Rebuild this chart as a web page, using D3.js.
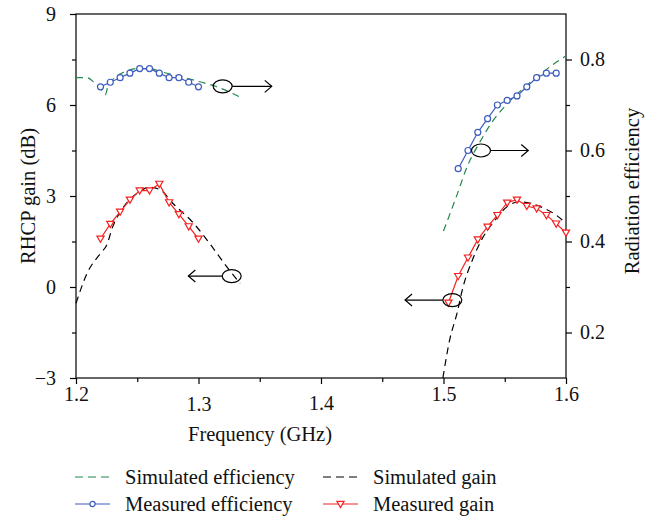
<!DOCTYPE html>
<html>
<head>
<meta charset="utf-8">
<script src="https://cdn.jsdelivr.net/npm/d3@7"></script>
<style>
  body { margin: 0; background: #fff; }
  svg text { font-family: "Liberation Serif", "DejaVu Serif", serif !important; fill: #111; }
  .axis text { font-size: 20px; }
  .axis line { stroke: #000; stroke-width: 1.2; }
</style>
</head>
<body>
<div id="chart"></div>
<script>
// RHCP gain / radiation efficiency vs frequency, two bands

// ---- data ----
// simulated efficiency (right axis)
let simEffLowF  = [1.200, 1.209, 1.215, 1.221, 1.224, 1.226, 1.230, 1.239, 1.250, 1.260, 1.271, 1.285, 1.301, 1.315, 1.335];
let simEffLow   = [0.760, 0.760, 0.749, 0.733, 0.723, 0.741, 0.756, 0.772, 0.780, 0.780, 0.772, 0.763, 0.751, 0.740, 0.716];
let simEffHighF = [1.500, 1.510, 1.520, 1.530, 1.540, 1.550, 1.560, 1.570, 1.580, 1.590, 1.600];
let simEffHigh  = [0.423, 0.495, 0.569, 0.620, 0.664, 0.697, 0.724, 0.748, 0.770, 0.790, 0.808];

// measured efficiency (right axis)
let measEffLowF  = [1.220, 1.228, 1.236, 1.244, 1.252, 1.260, 1.268, 1.276, 1.284, 1.292, 1.300];
let measEffLow   = [0.74, 0.75, 0.76, 0.77, 0.78, 0.78, 0.77, 0.76, 0.76, 0.75, 0.74];
let measEffHighF = [1.512, 1.520, 1.528, 1.536, 1.544, 1.552, 1.560, 1.568, 1.576, 1.584, 1.592];
let measEffHigh  = [0.56, 0.60, 0.64, 0.67, 0.70, 0.71, 0.72, 0.74, 0.76, 0.77, 0.77];

// simulated gain (left axis, dB)
let simGainLowF  = [1.200, 1.209, 1.220, 1.225, 1.230, 1.239, 1.250, 1.260, 1.269, 1.279, 1.296, 1.309, 1.323, 1.334];
let simGainLow   = [-0.54, 0.45, 1.11, 1.38, 1.99, 2.65, 3.09, 3.29, 3.20, 2.76, 2.10, 1.44, 0.67, 0.12];
let simGainHighF = [1.4995, 1.505, 1.511, 1.516, 1.523, 1.531, 1.541, 1.552, 1.562, 1.579, 1.592, 1.600];
let simGainHigh  = [-3.00, -1.75, -0.87, 0.01, 0.83, 1.55, 2.15, 2.65, 2.81, 2.65, 2.37, 2.10];

// measured gain (left axis, dB)
let measGainLowF  = [1.220, 1.228, 1.236, 1.244, 1.252, 1.260, 1.268, 1.276, 1.284, 1.292, 1.300];
let measGainLow   = [1.59, 2.08, 2.48, 2.88, 3.18, 3.18, 3.40, 2.79, 2.40, 2.00, 1.59];
let measGainHighF = [1.504, 1.512, 1.520, 1.528, 1.536, 1.544, 1.552, 1.560, 1.568, 1.576, 1.584, 1.592, 1.600];
let measGainHigh  = [-0.52, 0.36, 0.97, 1.57, 1.99, 2.37, 2.78, 2.88, 2.67, 2.59, 2.37, 2.09, 1.79];

// axis ticks
let xTicks = [1.2, 1.3, 1.4, 1.5, 1.6];
let xMinor = [1.25, 1.35, 1.45, 1.55];
let gainTicks = [-3, 0, 3, 6, 9];
let gainMinor = [-1.5, 1.5, 4.5, 7.5];
let effTicks = [0.2, 0.4, 0.6, 0.8];
let effMinor = [0.3, 0.5, 0.7];

// ellipse + arrow notes: which axis, ellipse centre, arrow tip frequency
let notes = [
  { axis: 'eff',  f: 1.3197, v: 0.741, tip: 1.3598 },
  { axis: 'gain', f: 1.3271, v: 0.36,  tip: 1.2917 },
  { axis: 'eff',  f: 1.5306, v: 0.600, tip: 1.5692 },
  { axis: 'gain', f: 1.5072, v: -0.43, tip: 1.4686 }
];

// ---- layout ----
let svgWidth = 658;
let svgHeight = 517;
let margin = { top: 14, right: 92, bottom: 139, left: 76 };
let width = svgWidth - margin.left - margin.right;
let height = svgHeight - margin.top - margin.bottom;

let serif = '"Liberation Serif", "DejaVu Serif", serif';
let green = '#23884a';
let blue = '#3d5cbf';
let red = '#f52020';

let svg = d3.select('#chart').append('svg')
  .attr('width', svgWidth)
  .attr('height', svgHeight)
  .attr('font-family', serif);

let g = svg.append('g')
  .attr('transform', `translate(${margin.left}, ${margin.top})`);

let x = d3.scaleLinear().domain([1.2, 1.6]).range([0, width]);
let yGain = d3.scaleLinear().domain([-3, 9]).range([height, 0]);
let yEff = d3.scaleLinear().domain([0.1, 0.9]).range([height, 0]);

function pairs(fs, vs) {
  return fs.map((f, i) => ({ f: f, v: vs[i] }));
}

// frame
g.append('rect')
  .attr('width', width)
  .attr('height', height)
  .attr('fill', 'none')
  .attr('stroke', '#000')
  .attr('stroke-width', 1.2);

// x axis
let xAxis = g.append('g')
  .attr('class', 'axis')
  .attr('transform', `translate(0, ${height})`)
  .call(d3.axisBottom(x).tickValues(xTicks).tickSize(6).tickPadding(3).tickFormat(d3.format('.1f')));
xAxis.select('.domain').remove();
// labels 1.3 and 1.4 sit a bit lower in the original
let xLabelShift = { '1.3': 10, '1.4': 9 };
xAxis.selectAll('text')
  .attr('transform', d => `translate(0, ${xLabelShift[d.toFixed(1)] || 0})`);
g.append('g')
  .attr('class', 'axis')
  .attr('transform', `translate(0, ${height})`)
  .call(d3.axisBottom(x).tickValues(xMinor).tickSize(4).tickFormat(''))
  .select('.domain').remove();

// left axis
let leftAxis = g.append('g')
  .attr('class', 'axis')
  .call(d3.axisLeft(yGain).tickValues(gainTicks).tickSize(6).tickPadding(14)
    .tickFormat(d => d < 0 ? '\u2212' + Math.abs(d) : d));
leftAxis.select('.domain').remove();
g.append('g')
  .attr('class', 'axis')
  .call(d3.axisLeft(yGain).tickValues(gainMinor).tickSize(4).tickFormat(''))
  .select('.domain').remove();

// right axis
let rightAxis = g.append('g')
  .attr('class', 'axis')
  .attr('transform', `translate(${width}, 0)`)
  .call(d3.axisRight(yEff).tickValues(effTicks).tickSize(6).tickPadding(8).tickFormat(d3.format('.1f')));
rightAxis.select('.domain').remove();
g.append('g')
  .attr('class', 'axis')
  .attr('transform', `translate(${width}, 0)`)
  .call(d3.axisRight(yEff).tickValues(effMinor).tickSize(4).tickFormat(''))
  .select('.domain').remove();

svg.selectAll('.axis').attr('font-family', serif);

// axis titles
svg.append('text')
  .attr('x', 260)
  .attr('y', 441)
  .attr('text-anchor', 'middle')
  .style('font-size', '20.5px')
  .text('Frequency (GHz)');

svg.append('text')
  .attr('transform', 'translate(28, 196) rotate(-90)')
  .attr('text-anchor', 'middle')
  .attr('dy', '0.35em')
  .style('font-size', '20.5px')
  .text('RHCP gain (dB)');

svg.append('text')
  .attr('transform', 'translate(632, 191) rotate(-90)')
  .attr('text-anchor', 'middle')
  .attr('dy', '0.35em')
  .style('font-size', '20.5px')
  .text('Radiation efficiency');

// lines
let effLine = d3.line().x(d => x(d.f)).y(d => yEff(d.v)).curve(d3.curveMonotoneX);
let gainLine = d3.line().x(d => x(d.f)).y(d => yGain(d.v)).curve(d3.curveMonotoneX);
let effPoly = d3.line().x(d => x(d.f)).y(d => yEff(d.v));
let gainPoly = d3.line().x(d => x(d.f)).y(d => yGain(d.v));

[pairs(simEffLowF, simEffLow), pairs(simEffHighF, simEffHigh)].forEach(data => {
  g.append('path')
    .attr('d', effLine(data))
    .attr('fill', 'none')
    .attr('stroke', green)
    .attr('stroke-width', 1.2)
    .attr('stroke-dasharray', '7,5');
});

[pairs(simGainLowF, simGainLow), pairs(simGainHighF, simGainHigh)].forEach(data => {
  g.append('path')
    .attr('d', gainLine(data))
    .attr('fill', 'none')
    .attr('stroke', '#000')
    .attr('stroke-width', 1.2)
    .attr('stroke-dasharray', '7,5');
});

let triangle = 'M-3.6,-2.6 L3.6,-2.6 L0,3.6 Z';

[pairs(measGainLowF, measGainLow), pairs(measGainHighF, measGainHigh)].forEach(data => {
  g.append('path')
    .attr('d', gainPoly(data))
    .attr('fill', 'none')
    .attr('stroke', red)
    .attr('stroke-width', 1.2);
  g.selectAll(null)
    .data(data)
    .enter()
    .append('path')
    .attr('d', triangle)
    .attr('transform', d => `translate(${x(d.f)}, ${yGain(d.v)})`)
    .attr('fill', '#fff')
    .attr('stroke', red)
    .attr('stroke-width', 1.2);
});

[pairs(measEffLowF, measEffLow), pairs(measEffHighF, measEffHigh)].forEach(data => {
  g.append('path')
    .attr('d', effPoly(data))
    .attr('fill', 'none')
    .attr('stroke', blue)
    .attr('stroke-width', 1.2);
  g.selectAll(null)
    .data(data)
    .enter()
    .append('circle')
    .attr('cx', d => x(d.f))
    .attr('cy', d => yEff(d.v))
    .attr('r', 3)
    .attr('fill', '#fff')
    .attr('stroke', blue)
    .attr('stroke-width', 1.2);
});

// ellipse + arrow notes
let rx = 9.5, ry = 6.5;
notes.forEach(n => {
  let cx = x(n.f);
  let cy = n.axis === 'eff' ? yEff(n.v) : yGain(n.v);
  let tx = x(n.tip);
  let dir = tx > cx ? 1 : -1;
  g.append('ellipse')
    .attr('cx', cx).attr('cy', cy)
    .attr('rx', rx).attr('ry', ry)
    .attr('fill', 'none')
    .attr('stroke', '#000')
    .attr('stroke-width', 1.2);
  g.append('line')
    .attr('x1', cx + dir * rx).attr('y1', cy)
    .attr('x2', tx).attr('y2', cy)
    .attr('stroke', '#000')
    .attr('stroke-width', 1.2);
  g.append('path')
    .attr('d', `M${tx - dir * 7},${cy - 6} L${tx},${cy} L${tx - dir * 7},${cy + 6}`)
    .attr('fill', 'none')
    .attr('stroke', '#000')
    .attr('stroke-width', 1.2);
});

// legend
let legendItems = [
  { label: 'Simulated efficiency', color: green, dash: '8,5', marker: null, lx: 75, ly: 477 },
  { label: 'Measured efficiency', color: blue, dash: null, marker: 'circle', lx: 75, ly: 504 },
  { label: 'Simulated gain', color: '#000', dash: '8,5', marker: null, lx: 323, ly: 477 },
  { label: 'Measured gain', color: red, dash: null, marker: 'triangle', lx: 323, ly: 504 }
];

let legend = svg.append('g');
legendItems.forEach(item => {
  let row = legend.append('g').attr('transform', `translate(${item.lx}, ${item.ly})`);
  row.append('line')
    .attr('x1', 0).attr('x2', 35)
    .attr('stroke', item.color)
    .attr('stroke-width', 1.2)
    .attr('stroke-dasharray', item.dash);
  if (item.marker === 'circle') {
    row.append('circle')
      .attr('cx', 17.5).attr('r', 2.6)
      .attr('fill', '#fff')
      .attr('stroke', item.color)
      .attr('stroke-width', 1.2);
  }
  if (item.marker === 'triangle') {
    row.append('path')
      .attr('d', 'M-3.6,-2.6 L3.6,-2.6 L0,3.6 Z')
      .attr('transform', 'translate(17.5, 0)')
      .attr('fill', '#fff')
      .attr('stroke', item.color)
      .attr('stroke-width', 1.2);
  }
  row.append('text')
    .attr('x', 50)
    .attr('y', 7)
    .style('font-size', '20.5px')
    .text(item.label);
});
</script>
</body>
</html>
